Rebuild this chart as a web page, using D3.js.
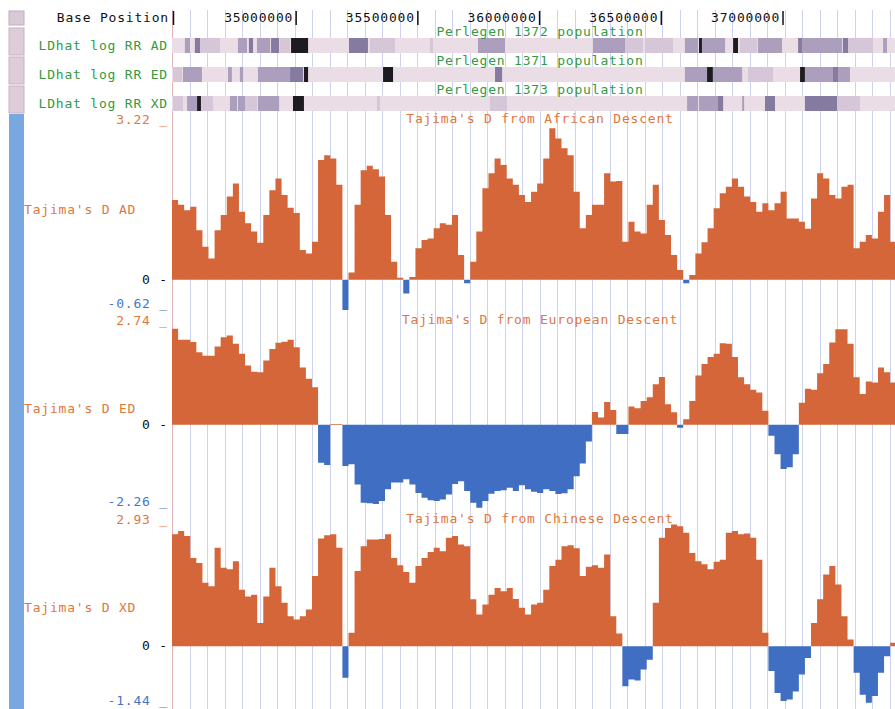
<!DOCTYPE html>
<html>
<head>
<meta charset="utf-8">
<script src="https://d3js.org/d3.v7.min.js"></script>
<style>
  body { margin: 0; background: #fff; }
  svg { display: block; font-family: "DejaVu Sans Mono", monospace; font-size: 13px; letter-spacing: 0.8px; }
</style>
</head>
<body>
<svg id="chart" width="895" height="709"></svg>
<script>
// window shown: chr position range, Tajima's D in 25kb windows
var viewStart = 34490000, viewEnd = 37460000;
var binStart = 34490000, binSize = 25000;
var rulerTicks = [35000000, 35500000, 36000000, 36500000, 37000000];
var gridStep = 71900;

var tajimaAD = [1.64,1.54,1.43,1.50,1.02,0.68,0.44,1.02,1.33,1.71,
  1.98,1.40,1.16,0.99,0.76,1.33,1.84,2.08,1.74,1.48,
  1.37,0.61,0.54,0.78,2.46,2.56,2.49,1.95,-0.62,0.15,
  1.54,2.25,2.34,2.27,2.12,1.33,0.37,0.04,-0.28,0.06,
  0.65,0.82,0.85,1.06,1.16,1.13,1.33,0.51,-0.07,0.37,
  0.99,1.88,2.19,2.49,2.36,2.08,1.95,1.74,1.60,1.81,
  1.98,2.49,3.11,2.90,2.70,2.56,1.81,1.06,1.33,1.54,
  1.54,2.19,2.02,2.03,0.78,1.19,0.99,0.95,1.54,1.95,
  1.23,0.92,0.51,0.20,-0.07,0.10,0.54,0.77,1.06,1.47,
  1.78,1.91,2.08,1.91,1.71,1.60,1.40,1.57,1.43,1.57,
  1.81,1.26,1.26,1.19,1.05,1.67,2.19,2.08,1.74,1.67,
  1.91,1.95,0.65,0.78,0.92,0.85,1.40,1.74,0.78];

var tajimaED = [2.61,2.31,2.31,2.25,1.97,1.88,1.88,2.13,2.38,2.43,
  2.20,1.93,1.61,1.44,1.43,1.75,2.06,2.23,2.26,2.31,
  2.11,1.56,1.25,1.02,-1.03,-1.09,0.02,0.02,-1.12,-1.07,
  -1.62,-2.12,-2.13,-2.15,-2.07,-1.75,-1.57,-1.57,-1.48,-1.62,
  -1.85,-1.98,-2.05,-2.07,-2.03,-1.89,-1.61,-1.53,-1.80,-2.12,
  -2.25,-2.07,-1.87,-1.80,-1.78,-1.71,-1.80,-1.64,-1.75,-1.82,
  -1.85,-1.75,-1.80,-1.88,-1.86,-1.75,-1.40,-1.05,-0.45,0.35,
  0.20,0.62,0.40,-0.25,-0.25,0.50,0.45,0.65,0.75,1.10,
  1.30,0.56,0.34,-0.08,0.15,0.65,1.34,1.65,1.84,1.93,
  2.22,2.20,1.84,1.29,1.10,0.95,0.88,0.38,-0.30,-0.80,
  -1.20,-1.15,-0.80,0.60,0.98,0.95,1.40,1.65,2.24,2.60,
  2.60,2.20,1.29,0.84,1.18,1.15,1.56,1.43,1.15];

var tajimaXD = [2.65,2.73,2.61,2.09,1.97,1.50,1.42,2.33,1.86,1.82,
  2.01,1.34,1.18,1.22,0.55,1.18,1.86,1.42,1.03,0.71,
  0.63,0.71,0.87,1.66,2.55,2.63,2.65,2.33,-0.75,0.32,
  1.78,2.37,2.53,2.53,2.54,2.65,2.09,1.92,1.76,1.50,
  1.90,2.09,2.23,2.33,2.25,2.57,2.61,2.41,2.37,1.11,
  0.75,0.99,1.22,1.38,1.30,1.38,1.12,0.91,0.75,0.99,
  1.03,1.34,1.90,2.05,2.37,2.39,2.32,1.66,1.88,1.92,
  1.86,2.17,0.71,0.30,-0.95,-0.79,-0.81,-0.55,-0.32,1.03,
  2.57,2.80,2.88,2.84,2.69,2.21,2.01,1.94,1.82,2.00,
  2.05,2.69,2.73,2.65,2.67,2.57,2.05,0.32,-0.59,-1.11,
  -1.30,-1.26,-1.07,-0.67,-0.28,0.55,1.11,1.70,1.90,1.46,
  0.71,0.16,-0.63,-1.15,-1.34,-1.18,-0.63,-0.24,0.08];

// LDhat recombination rate segments: [start kb, end kb, shade level 1..4]
var ldhatAD = [[34543,34564,2],[34584,34605,3],[34605,34687,1],[34761,34798,2],[34806,34823,3],
  [34839,34893,2],[34897,34930,3],[34934,34975,1],[34979,35049,4],[35217,35295,3],[35303,35406,1],
  [35550,35562,1],[35747,35858,2],[36219,36351,2],[36351,36425,1],[36433,36548,1],[36597,36651,2],
  [36655,36667,4],[36667,36762,2],[36795,36815,4],[36823,36893,1],[36897,36996,2],[37062,37078,3],
  [37078,37242,2],[37246,37267,3],[37267,37370,1],[37411,37427,2]];
var ldhatED = [[34494,34531,1],[34535,34613,2],[34720,34736,2],[34769,34782,2],[34843,34975,2],
  [34975,35028,3],[35032,35049,4],[35357,35398,4],[35817,35846,3],[36597,36688,2],[36688,36712,4],
  [36712,36832,2],[36856,36959,1],[37070,37090,4],[37090,37205,2],[37205,37226,3],[37226,37275,2]];
var ldhatXD = [[34494,34535,1],[34552,34593,2],[34593,34609,4],[34609,34658,1],[34728,34757,2],
  [34761,34790,2],[34790,34839,1],[34843,34930,2],[34987,35032,4],[35332,35344,1],[35796,35866,1],
  [36606,36651,2],[36655,36733,2],[36733,36754,3],[36832,36840,2],[36926,36967,3],[37090,37222,3],
  [37222,37316,1]];

var svg = d3.select("#chart"),
    width = +svg.attr("width"),
    height = +svg.attr("height");

var x = d3.scaleLinear().domain([viewStart, viewEnd]).range([172, 895]);
var shade = d3.scaleOrdinal().domain([0, 1, 2, 3, 4])
    .range(["#eadde6", "#d5c6d8", "#ac9fbd", "#857a9f", "#1d1b20"]);

var orange = "#d4663a", blue = "#3f6ec2", green = "#339a3f", textOrange = "#df773e", textBlue = "#4577c8";

// left side buttons
svg.append("rect").attr("x", 9).attr("y", 11).attr("width", 15).attr("height", 14)
  .attr("fill", "#d9c9d7").attr("stroke", "#c0aebd");
[28, 57, 86].forEach(function(t) {
  svg.append("rect").attr("x", 9).attr("y", t).attr("width", 15).attr("height", 27)
    .attr("fill", "#ddcdd9").attr("stroke", "#c6b3c2");
});
svg.append("rect").attr("x", 9).attr("y", 114).attr("width", 15).attr("height", height - 114)
  .attr("fill", "#78a8df");

// guidelines
var grid = d3.range(viewStart + gridStep, viewEnd, gridStep);
svg.append("g").selectAll("line").data(grid).enter().append("line")
  .attr("x1", function(d) { return Math.round(x(d)) + 0.5; })
  .attr("x2", function(d) { return Math.round(x(d)) + 0.5; })
  .attr("y1", 10).attr("y2", height)
  .attr("stroke", "#cdd2ee").attr("stroke-width", 1);
svg.append("line").attr("x1", 172.5).attr("x2", 172.5).attr("y1", 10).attr("y2", height)
  .attr("stroke", "#e2b4b8");

// ruler
svg.append("text").attr("x", 169).attr("y", 21.5).attr("text-anchor", "end").attr("fill", "#111").text("Base Position");
svg.append("line").attr("x1", 173.5).attr("x2", 173.5).attr("y1", 11).attr("y2", 25).attr("stroke", "#111").attr("stroke-width", 1.5);
var ruler = svg.append("g").selectAll("g").data(rulerTicks).enter().append("g");
ruler.append("text").attr("x", function(d) { return x(d) - 3; }).attr("y", 21.5)
  .attr("text-anchor", "end").attr("fill", "#111").text(function(d) { return d; });
ruler.append("line").attr("x1", function(d) { return x(d); }).attr("x2", function(d) { return x(d); })
  .attr("y1", 11).attr("y2", 25).attr("stroke", "#111").attr("stroke-width", 1.5);

// LDhat density rows
var ldRows = [
  { label: "LDhat log RR AD", title: "Perlegen 1372 population", segs: ldhatAD, top: 38 },
  { label: "LDhat log RR ED", title: "Perlegen 1371 population", segs: ldhatED, top: 67 },
  { label: "LDhat log RR XD", title: "Perlegen 1373 population", segs: ldhatXD, top: 96 }
];
ldRows.forEach(function(r) {
  var g = svg.append("g");
  g.append("rect").attr("x", x(viewStart)).attr("y", r.top).attr("width", x(viewEnd) - x(viewStart)).attr("height", 15)
    .attr("fill", shade(0));
  g.selectAll(".seg").data(r.segs).enter().append("rect")
    .attr("class", "seg")
    .attr("x", function(d) { return x(d[0] * 1000); })
    .attr("width", function(d) { return x(d[1] * 1000) - x(d[0] * 1000); })
    .attr("y", r.top).attr("height", 15)
    .attr("fill", function(d) { return shade(d[2]); });
  g.append("text").attr("x", 168).attr("y", r.top + 12).attr("text-anchor", "end").attr("fill", green).text(r.label);
  g.append("text").attr("x", 540).attr("y", r.top - 2).attr("text-anchor", "middle").attr("fill", green).text(r.title);
});

// Tajima's D wiggle tracks
var tracks = [
  { label: "Tajima's D AD", title: "Tajima's D from African Descent", values: tajimaAD, min: -0.62, max: 3.22, top: 123, bottom: 310 },
  { label: "Tajima's D ED", title: "Tajima's D from European Descent", values: tajimaED, min: -2.26, max: 2.74, top: 324, bottom: 508 },
  { label: "Tajima's D XD", title: "Tajima's D from Chinese Descent", values: tajimaXD, min: -1.44, max: 2.93, top: 522.5, bottom: 707 }
];

tracks.forEach(function(t) {
  var y = d3.scaleLinear().domain([t.min, t.max]).range([t.bottom, t.top]);
  var pts = t.values.map(function(v, i) { return [binStart + i * binSize, v]; });
  pts.push([binStart + t.values.length * binSize, t.values[t.values.length - 1]]);

  var g = svg.append("g");
  var up = d3.area().curve(d3.curveStepAfter)
    .x(function(d) { return x(d[0]); })
    .y0(y(0)).y1(function(d) { return y(Math.max(0, d[1])); });
  var down = d3.area().curve(d3.curveStepAfter)
    .x(function(d) { return x(d[0]); })
    .y0(y(0)).y1(function(d) { return y(Math.min(0, d[1])); });
  g.append("path").datum(pts).attr("d", up).attr("fill", orange);
  g.append("path").datum(pts).attr("d", down).attr("fill", blue);

  g.append("text").attr("x", 540).attr("y", t.top).attr("text-anchor", "middle").attr("fill", textOrange).text(t.title);
  g.append("text").attr("x", 24).attr("y", (t.top + t.bottom) / 2 - 3).attr("fill", textOrange).text(t.label);
  g.append("text").attr("x", 168).attr("y", y(t.max) + 1).attr("text-anchor", "end").attr("fill", textOrange).text(t.max.toFixed(2) + " _");
  g.append("text").attr("x", 168).attr("y", y(t.min) - 2).attr("text-anchor", "end").attr("fill", textBlue).text(t.min.toFixed(2) + " _");
  g.append("text").attr("x", 168).attr("y", y(0) + 4).attr("text-anchor", "end").attr("fill", "#111").text("0 -");
});
</script>
</body>
</html>
